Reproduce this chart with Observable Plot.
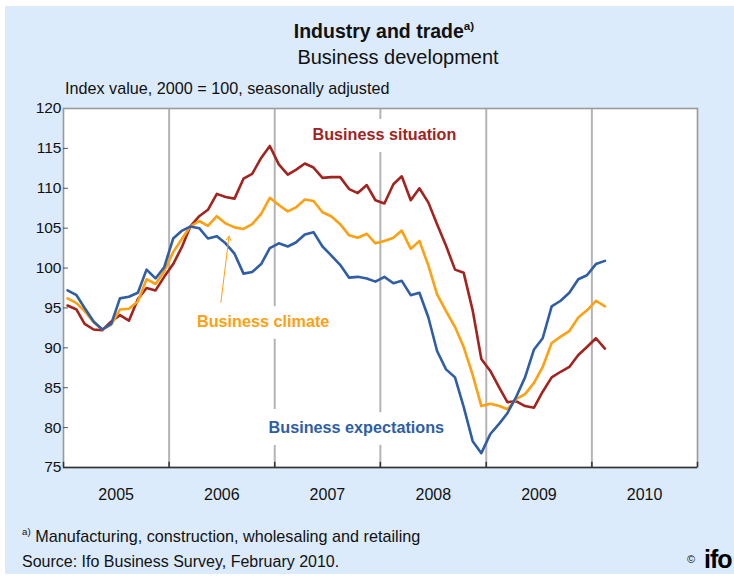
<!DOCTYPE html>
<html><head><meta charset="utf-8">
<script src="https://cdn.jsdelivr.net/npm/d3@7"></script>
<script src="https://cdn.jsdelivr.net/npm/@observablehq/plot@0.6"></script>
<style>
html,body{margin:0;padding:0;background:#fff;}
#wrap{position:relative;width:734px;height:576px;overflow:hidden;background:#fff;font-family:"Liberation Sans",Arial,sans-serif;}
#bg{position:absolute;left:5px;top:6px;right:0;bottom:2px;background:#dcebfb;}
.t{position:absolute;white-space:nowrap;color:#111;line-height:1;}
#chart{position:absolute;left:0;top:95px;}
sup{font-size:0.6em;vertical-align:0.7em;}
</style></head><body>
<div id="wrap"><div id="bg"></div>
<div class="t" style="left:0;width:768px;text-align:center;top:20px;font-weight:bold;font-size:19.5px;">Industry and trade<sup>a)</sup></div>
<div class="t" style="left:0;width:796px;text-align:center;top:47px;font-size:20px;">Business development</div>
<div class="t" style="left:65px;top:80px;font-size:16.2px;">Index value, 2000 = 100, seasonally adjusted</div>
<div id="chart"></div>
<div class="t" style="left:22px;top:527px;font-size:16.2px;"><sup>a)</sup> Manufacturing, construction, wholesaling and retailing</div>
<div class="t" style="left:22px;top:554px;font-size:16px;">Source: Ifo Business Survey, February 2010.</div>
<div class="t" style="left:687px;top:554px;font-size:11px;">©</div>
<div class="t" style="left:704px;top:547px;font-size:25px;font-weight:bold;color:#000;letter-spacing:-1px;">ifo</div>
</div>
<script>
const seriesNames = ["Business situation", "Business climate", "Business expectations"];
const seriesColors = ["#a3231f", "#ffa010", "#2f5da6"];

const situation = [95.3, 94.8, 93.0, 92.3, 92.2, 93.3, 94.1, 93.4, 96.1, 97.5, 97.2, 98.9,
 100.5, 102.7, 105.2, 106.5, 107.3, 109.3, 108.9, 108.7, 111.2, 111.8, 113.8, 115.3,
 113.0, 111.7, 112.3, 113.1, 112.6, 111.3, 111.4, 111.4, 109.9, 109.4, 110.4, 108.5,
 108.1, 110.5, 111.5, 108.5, 110.0, 108.2, 105.5, 102.8, 99.8, 99.4, 94.7, 88.6,
 87.1, 85.0, 83.2, 83.3, 82.7, 82.5, 84.5, 86.3, 87.0, 87.6, 89.1, 90.1,
 91.2, 89.9];

const climate = [96.2, 95.6, 94.6, 93.2, 92.3, 92.9, 94.8, 94.9, 95.8, 98.6, 98.0, 99.6,
 102.0, 103.7, 105.2, 105.9, 105.3, 106.5, 105.6, 105.1, 104.9, 105.5, 106.8, 108.8,
 107.9, 107.1, 107.6, 108.6, 108.4, 107.0, 106.5, 105.5, 104.1, 103.8, 104.3, 103.1,
 103.4, 103.8, 104.7, 102.4, 103.4, 100.3, 96.7, 94.6, 92.6, 90.1, 86.6, 82.7,
 83.0, 82.7, 82.3, 83.6, 84.2, 85.6, 87.6, 90.6, 91.4, 92.1, 93.8, 94.7,
 95.9, 95.2];

const expectations = [97.2, 96.6, 95.0, 93.3, 92.3, 93.0, 96.2, 96.4, 96.9, 99.8, 98.7, 100.1,
 103.7, 104.7, 105.2, 105.0, 103.7, 104.0, 103.1, 101.8, 99.3, 99.5, 100.5, 102.5,
 103.1, 102.7, 103.2, 104.2, 104.5, 102.7, 101.6, 100.4, 98.8, 98.9, 98.7, 98.3,
 98.9, 98.1, 98.4, 96.6, 96.9, 93.8, 89.6, 87.3, 86.3, 82.6, 78.3, 76.8,
 79.2, 80.5, 81.8, 83.9, 86.3, 89.8, 91.2, 95.2, 95.9, 96.9, 98.6, 99.1,
 100.5, 100.9];

const yTicks = [75, 80, 85, 90, 95, 100, 105, 110, 115, 120];
const yearLabels = [2005, 2006, 2007, 2008, 2009, 2010];
const gridYears = [2006, 2007, 2008, 2009, 2010];

// monthly observations, Jan 2005 - Feb 2010 (plotted mid-month)
const months = d3.timeMonth.range(new Date(2005, 0, 1), new Date(2010, 2, 1))
  .map(d => new Date(d.getFullYear(), d.getMonth(), 15));

const valuesByName = [situation, climate, expectations];
const rows = [];
seriesNames.forEach((name, k) => valuesByName[k].forEach((v, i) => rows.push({name, date: months[i], value: v})));

// annotation placement
const labels = [
  {text: "Business situation", date: new Date(2008, 0, 15), value: 116.7, color: seriesColors[0]},
  {text: "Business climate", date: new Date(2006, 10, 22), value: 93.3, color: seriesColors[1]},
  {text: "Business expectations", date: new Date(2007, 9, 10), value: 80.0, color: seriesColors[2]}
];
const pointer = [{x1: new Date(2006, 5, 29), y1: 95.7, x2: new Date(2006, 6, 27), y2: 104.0}];

const x0 = new Date(2005, 0, 1), x1 = new Date(2011, 0, 1);
const yearStarts = yearLabels.map(y => new Date(y, 0, 1)).concat([x1]);
const yearMids = yearLabels.map(y => new Date(y, 6, 2));
const gridDates = gridYears.map(y => new Date(y, 0, 1));

const font = '"Liberation Sans", Arial, sans-serif';
const chart = Plot.plot({
  width: 734, height: 420,
  marginTop: 13, marginLeft: 63, marginRight: 37, marginBottom: 48,
  style: {background: "transparent", fontFamily: font, fontSize: "15px", color: "#111"},
  x: {type: "time", domain: [x0, x1]},
  y: {domain: [75, 120]},
  color: {domain: seriesNames, range: seriesColors},
  marks: [
    Plot.frame({fill: "white", stroke: null}),
    Plot.ruleX(gridDates, {stroke: "#b4b4b4", strokeWidth: 2}),
    Plot.text(labels, {x: "date", y: "value", text: "text", fill: "white", stroke: "white", strokeWidth: 24, fontWeight: "bold", fontSize: 16.2}),
    Plot.text(labels, {x: "date", y: "value", text: "text", fill: "color", fontWeight: "bold", fontSize: 16.2}),
    Plot.line(rows, {x: "date", y: "value", z: "name", stroke: "name", strokeWidth: 2.6, strokeLinejoin: "round"}),
    Plot.arrow(pointer, {x1: "x1", y1: "y1", x2: "x2", y2: "y2", stroke: seriesColors[1], strokeWidth: 1, headLength: 7}),
    Plot.frame({stroke: "#9a9a9a", strokeWidth: 1.6}),
    Plot.ruleY([75], {stroke: "#333", strokeWidth: 1.6}),
    Plot.ruleY(yTicks.slice(1, -1), {x1: () => x0, x2: () => new Date(2005, 0, 18), stroke: "#555", strokeWidth: 1}),
    Plot.ruleX(yearStarts, {y1: 75, y2: 75.65, stroke: "#333", strokeWidth: 1.5}),
    Plot.axisY(yTicks, {tickSize: 0, tickPadding: 2, fontSize: 15.5}),
    Plot.axisX(yearMids, {tickSize: 0, tickPadding: 21, tickFormat: d3.timeFormat("%Y"), fontSize: 16})
  ]
});
document.getElementById("chart").appendChild(chart);
</script>
</body></html>
